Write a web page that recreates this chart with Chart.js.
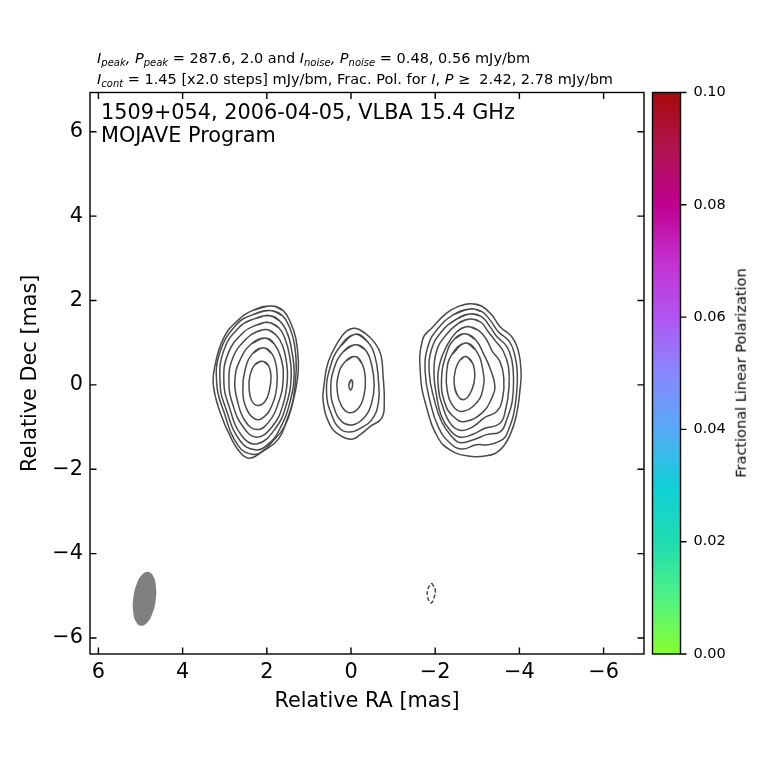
<!DOCTYPE html>
<html><head><meta charset="utf-8">
<script src="https://cdn.jsdelivr.net/npm/chart.js@4"></script>
<style>
html,body{margin:0;padding:0;background:#fff;width:760px;height:760px;overflow:hidden}
canvas{position:absolute;left:0;top:0}
.t{position:absolute;font-family:"DejaVu Sans";color:#000;white-space:pre;line-height:1}
.s{font-size:14.5px}
.b{font-size:20.8px}
.s i{font-style:italic}
.s sub{font-size:10px;font-style:italic;vertical-align:baseline;position:relative;top:2.5px}
.r{left:741px;top:373px;transform:translate(-50%,-50%) rotate(-90deg);font-size:14.5px}
</style></head><body>
<canvas id="main" width="760" height="760"></canvas>
<canvas id="cbar" width="760" height="760"></canvas>
<div class="t s" style="left:97px;top:51px"><i>I</i><sub>peak</sub><i>,</i> <i>P</i><sub>peak</sub> = 287.6, 2.0 and <i>I</i><sub>noise</sub><i>,</i> <i>P</i><sub>noise</sub> = 0.48, 0.56 mJy/bm</div>
<div class="t s" style="left:97px;top:72px"><i>I</i><sub>cont</sub> = 1.45 [x2.0 steps] mJy/bm, Frac. Pol. for <i>I</i>, <i>P</i> ≥  2.42, 2.78 mJy/bm</div>
<div class="t b" style="left:101px;top:102px">1509+054, 2006-04-05, VLBA 15.4 GHz</div>
<div class="t b" style="left:101px;top:125px">MOJAVE Program</div>
<div class="t r">Fractional Linear Polarization</div>
<script>
const xTicks=[6,4,2,0,-2,-4,-6];
const yTicks=[-6,-4,-2,0,2,4,6];
const cbarTicks=[0,0.02,0.04,0.06,0.08,0.10];
const cbarValue=[[0,0.1]];
const cbarColors=[[0,'#88ff2c'],[0.1,'#4ff283'],[0.2,'#1fdcb0'],[0.3,'#10d0d8'],[0.4,'#55aaf5'],[0.5,'#8888ff'],[0.6,'#b055f2'],[0.7,'#c430d0'],[0.8,'#c00090'],[0.9,'#b01450'],[1,'#a80a0a']];

// left component, outermost to innermost [RA, Dec]
const leftA=[[1.88,1.87],[1.61,1.76],[1.43,1.46],[1.31,1.10],[1.25,0.54],[1.27,0.15],[1.38,-0.41],[1.57,-0.97],[1.88,-1.36],[2.16,-1.62],[2.40,-1.74],[2.60,-1.64],[2.84,-1.28],[3.11,-0.65],[3.27,-0.01],[3.23,0.46],[3.03,1.10],[2.72,1.50],[2.32,1.77]];
const leftB=[[1.92,1.76],[1.63,1.64],[1.45,1.34],[1.34,0.94],[1.30,0.38],[1.37,-0.33],[1.53,-0.85],[1.72,-1.28],[2.04,-1.54],[2.32,-1.65],[2.68,-1.44],[3.03,-0.61],[3.19,0.03],[3.11,0.78],[2.72,1.43],[2.32,1.67]];
const leftC=[[1.94,1.64],[1.69,1.51],[1.51,1.22],[1.41,0.82],[1.35,0.27],[1.45,-0.41],[1.69,-1.04],[1.96,-1.40],[2.28,-1.54],[2.64,-1.32],[2.97,-0.57],[3.11,0.03],[3.02,0.82],[2.64,1.38],[2.28,1.57]];
const leftD=[[1.96,1.48],[1.72,1.36],[1.57,1.10],[1.47,0.74],[1.42,0.23],[1.53,-0.45],[1.80,-1.04],[2.24,-1.40],[2.60,-1.20],[2.89,-0.53],[3.02,0.07],[2.92,0.74],[2.56,1.24],[2.24,1.42]];
const leftE=[[2.00,1.31],[1.78,1.18],[1.63,0.94],[1.54,0.58],[1.51,0.15],[1.62,-0.49],[1.88,-1.00],[2.24,-1.24],[2.56,-1.00],[2.80,-0.49],[2.90,0.07],[2.80,0.66],[2.48,1.10],[2.24,1.26]];
const leftF=[[2.04,1.11],[1.83,0.98],[1.67,0.66],[1.61,0.15],[1.72,-0.41],[1.96,-0.89],[2.24,-1.06],[2.52,-0.85],[2.70,-0.37],[2.76,0.11],[2.64,0.58],[2.36,0.98]];
const leftG=[[2.08,0.88],[1.88,0.74],[1.77,0.42],[1.76,-0.01],[1.88,-0.49],[2.08,-0.77],[2.28,-0.81],[2.48,-0.57],[2.57,-0.13],[2.52,0.34],[2.34,0.74]];
const leftH=[[2.11,0.56],[1.96,0.46],[1.90,0.19],[1.94,-0.13],[2.04,-0.39],[2.22,-0.49],[2.36,-0.37],[2.42,-0.09],[2.40,0.22],[2.28,0.48]];
// middle component
const midA=[[-0.10,1.34],[-0.34,1.22],[-0.57,0.99],[-0.71,0.71],[-0.76,0.24],[-0.79,-0.40],[-0.73,-0.79],[-0.45,-0.99],[-0.22,-1.18],[-0.02,-1.29],[0.26,-1.20],[0.50,-0.95],[0.66,-0.40],[0.64,0.0],[0.54,0.55],[0.30,1.03],[0.10,1.28]];
const midB=[[-0.10,1.20],[-0.38,1.04],[-0.57,0.67],[-0.65,0.12],[-0.65,-0.43],[-0.49,-0.83],[-0.22,-1.03],[0.02,-1.12],[0.26,-1.04],[0.46,-0.71],[0.58,-0.20],[0.50,0.40],[0.26,0.91]];
const midC=[[-0.10,0.95],[-0.34,0.83],[-0.49,0.47],[-0.55,0.0],[-0.49,-0.43],[-0.30,-0.79],[-0.02,-0.95],[0.22,-0.87],[0.40,-0.55],[0.48,-0.12],[0.40,0.40],[0.18,0.79]];
const midD=[[-0.10,0.67],[-0.26,0.51],[-0.34,0.16],[-0.31,-0.24],[-0.18,-0.55],[0.04,-0.66],[0.22,-0.51],[0.32,-0.20],[0.30,0.24],[0.14,0.55]];
const midE=[[-0.01,0.12],[-0.04,0.02],[0.01,-0.12],[0.05,0.0]];
// right component
const rightA=[[-2.83,1.92],[-3.10,1.87],[-3.34,1.66],[-3.54,1.38],[-3.82,1.14],[-3.97,0.83],[-4.04,0.32],[-4.01,-0.16],[-3.93,-0.71],[-3.78,-1.18],[-3.54,-1.54],[-3.22,-1.68],[-2.75,-1.68],[-2.35,-1.54],[-2.07,-1.26],[-1.80,-0.55],[-1.65,0.24],[-1.70,1.07],[-1.95,1.38],[-2.27,1.70],[-2.55,1.86]];
const rightB=[[-2.83,1.80],[-3.10,1.74],[-3.30,1.54],[-3.50,1.26],[-3.76,1.03],[-3.89,0.71],[-3.95,0.28],[-3.93,-0.24],[-3.86,-0.71],[-3.74,-1.07],[-3.62,-1.28],[-3.26,-1.42],[-2.98,-1.42],[-2.63,-1.52],[-2.35,-1.38],[-2.07,-0.99],[-1.88,-0.40],[-1.76,0.32],[-1.84,0.95],[-2.07,1.34],[-2.43,1.66]];
const rightC=[[-2.83,1.68],[-3.10,1.62],[-3.30,1.38],[-3.47,1.14],[-3.70,0.91],[-3.82,0.59],[-3.86,0.16],[-3.83,-0.39],[-3.71,-0.79],[-3.55,-1.11],[-3.22,-1.18],[-2.94,-1.29],[-2.59,-1.37],[-2.39,-1.22],[-2.15,-0.87],[-1.97,-0.32],[-1.86,0.28],[-1.91,0.83],[-2.15,1.26],[-2.51,1.56]];
const rightD=[[-2.83,1.56],[-3.08,1.49],[-3.26,1.26],[-3.44,1.03],[-3.62,0.79],[-3.74,0.43],[-3.75,-0.08],[-3.68,-0.55],[-3.54,-0.91],[-3.18,-1.03],[-2.90,-1.17],[-2.59,-1.24],[-2.35,-1.07],[-2.15,-0.75],[-2.03,-0.24],[-1.97,0.28],[-2.03,0.79],[-2.23,1.15],[-2.55,1.46]];
const rightE=[[-2.75,1.38],[-3.02,1.30],[-3.22,1.07],[-3.36,0.79],[-3.54,0.55],[-3.63,0.16],[-3.60,-0.32],[-3.46,-0.63],[-3.18,-0.77],[-2.90,-0.99],[-2.63,-1.08],[-2.39,-0.95],[-2.19,-0.55],[-2.07,0.0],[-2.11,0.51],[-2.27,0.91],[-2.51,1.26]];
const rightF=[[-2.71,1.21],[-2.96,1.07],[-3.16,0.71],[-3.30,0.40],[-3.42,-0.04],[-3.34,-0.32],[-3.14,-0.64],[-2.71,-0.87],[-2.43,-0.75],[-2.23,-0.43],[-2.15,0.12],[-2.27,0.75],[-2.47,1.10]];
const rightG=[[-2.71,0.99],[-2.96,0.83],[-3.13,0.36],[-3.13,-0.12],[-2.94,-0.47],[-2.63,-0.63],[-2.43,-0.51],[-2.29,-0.16],[-2.27,0.28],[-2.39,0.71]];
const rightH=[[-2.73,0.67],[-2.89,0.51],[-2.94,0.20],[-2.87,-0.12],[-2.71,-0.34],[-2.55,-0.28],[-2.45,0.04],[-2.49,0.39],[-2.59,0.59]];
// negative contour and beam
const negContour=[[-1.92,-4.70],[-2.0,-4.86],[-1.97,-5.05],[-1.90,-5.17],[-1.82,-5.03],[-1.83,-4.83]];
const beam=[[4.821,-4.43],[4.965,-4.50],[5.092,-4.72],[5.17,-5.035],[5.176,-5.36],[5.111,-5.607],[4.989,-5.71],[4.845,-5.641],[4.718,-5.42],[4.64,-5.105],[4.634,-4.78],[4.699,-4.533]];

const contours=[leftA,leftB,leftC,leftD,leftE,leftF,leftG,leftH,midA,midB,midC,midD,midE,rightA,rightB,rightC,rightD,rightE,rightF,rightG,rightH];
const FONT='"DejaVu Sans"';
const INK='#4a4a4a';
const xy=p=>({x:p[0],y:p[1]});
// repeat neighbours so the smoothing closes the loop without a kink
const loop=a=>[a[a.length-1],...a,a[0],a[1]].map(xy);
const base={showLine:true,pointRadius:0,pointHoverRadius:0,tension:0.45,borderColor:INK,borderWidth:1.5,fill:false};
const datasets=contours.map(c=>({...base,data:loop(c)}));
datasets.push({...base,data:[...negContour,negContour[0]].map(xy),borderDash:[4,2.2]});
datasets.push({...base,data:loop(beam),borderColor:'#808080',borderWidth:0,backgroundColor:'#808080',fill:'shape'});

const frame={id:'frame',afterDraw(ch){
  const {ctx,chartArea:a,scales:{x,y}}=ch;
  ctx.save();ctx.strokeStyle='#000';ctx.lineWidth=1.4;ctx.beginPath();
  const L=6.5;
  xTicks.forEach(v=>{const p=x.getPixelForValue(v);ctx.moveTo(p,a.top);ctx.lineTo(p,a.top+L);ctx.moveTo(p,a.bottom);ctx.lineTo(p,a.bottom-L);});
  yTicks.forEach(v=>{const p=y.getPixelForValue(v);ctx.moveTo(a.left,p);ctx.lineTo(a.left+L,p);ctx.moveTo(a.right,p);ctx.lineTo(a.right-L,p);});
  ctx.stroke();ctx.strokeRect(a.left,a.top,a.right-a.left,a.bottom-a.top);ctx.restore();
}};
const minus=v=>String(v).replace('-','\u2212');
new Chart(document.getElementById('main'),{type:'scatter',data:{datasets},plugins:[frame],options:{
  responsive:false,animation:false,events:[],
  layout:{padding:{top:92.5,right:116,left:0,bottom:0}},
  plugins:{legend:{display:false},tooltip:{enabled:false}},
  scales:{
    x:{type:'linear',reverse:true,min:-6.96,max:6.2,
      afterBuildTicks:s=>{s.ticks=xTicks.map(v=>({value:v}));},
      afterFit:s=>{s.height=106;},
      grid:{display:false,drawTicks:false},border:{display:false},
      ticks:{color:'#000',padding:6,maxRotation:0,autoSkip:false,font:{family:FONT,size:20.8},callback:minus},
      title:{display:true,text:'Relative RA [mas]',color:'#000',font:{family:FONT,size:20.8},padding:{top:0,bottom:46}}},
    y:{type:'linear',min:-6.38,max:6.93,
      afterBuildTicks:s=>{s.ticks=yTicks.map(v=>({value:v}));},
      afterFit:s=>{s.width=90;},
      grid:{display:false,drawTicks:false},border:{display:false},
      ticks:{color:'#000',padding:7,autoSkip:false,font:{family:FONT,size:20.8},callback:minus},
      title:{display:true,text:'Relative Dec [mas]',color:'#000',font:{family:FONT,size:20.8},padding:{top:18,bottom:0}}}
  }}});

const cbarFrame={id:'cbarFrame',afterDraw(ch){
  const {ctx,chartArea:a,scales:{y}}=ch;
  ctx.save();ctx.strokeStyle='#000';ctx.lineWidth=1.4;ctx.beginPath();
  cbarTicks.forEach(v=>{const p=y.getPixelForValue(v);ctx.moveTo(a.right,p);ctx.lineTo(a.right+6,p);});
  ctx.stroke();ctx.strokeRect(a.left,a.top,a.right-a.left,a.bottom-a.top);ctx.restore();
}};
new Chart(document.getElementById('cbar'),{type:'bar',
  data:{labels:['p'],datasets:[{data:cbarValue,barPercentage:1,categoryPercentage:1,borderWidth:0,
    backgroundColor:c=>{const a=c.chart.chartArea;if(!a)return '#888';
      const g=c.chart.ctx.createLinearGradient(0,a.bottom,0,a.top);cbarColors.forEach(s=>g.addColorStop(s[0],s[1]));return g;}}]},
  plugins:[cbarFrame],
  options:{responsive:false,animation:false,events:[],
    layout:{padding:{top:92.5,bottom:106,left:652.5,right:0}},
    plugins:{legend:{display:false},tooltip:{enabled:false}},
    scales:{
      x:{display:false},
      y:{position:'right',min:0,max:0.1,
        afterBuildTicks:s=>{s.ticks=cbarTicks.map(v=>({value:v}));},
        afterFit:s=>{s.width=79.5;},
        grid:{display:false,drawTicks:false},border:{display:false},
        ticks:{color:'#000',padding:13,autoSkip:false,font:{family:FONT,size:14.5},callback:v=>v.toFixed(2)}}
    }}});
</script>
</body></html>
